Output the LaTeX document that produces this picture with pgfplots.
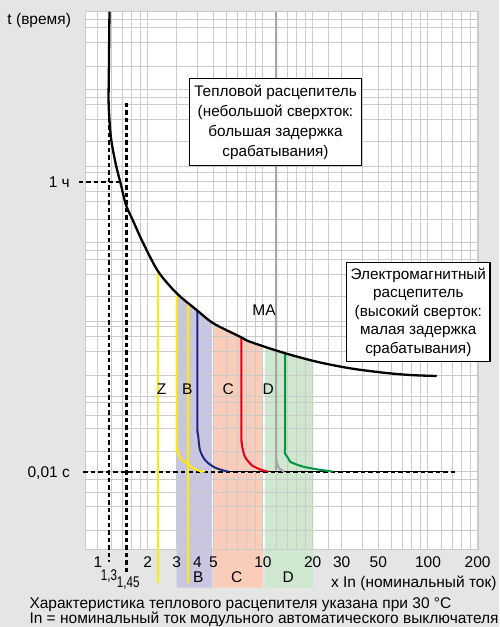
\documentclass[border=0pt]{standalone}
\usepackage{fontspec}
\setmainfont{Liberation Sans}
\usepackage{graphicx}
\usepackage{pgfplots}
\pgfplotsset{compat=1.18}
\definecolor{bggrey}{RGB}{228,230,229}
\definecolor{gridc}{RGB}{203,203,203}
\definecolor{bandB}{RGB}{200,198,225}
\definecolor{bandC}{RGB}{249,205,186}
\definecolor{bandD}{RGB}{207,230,207}
\definecolor{cyel}{RGB}{255,237,0}
\definecolor{cnavy}{RGB}{30,40,130}
\definecolor{cred}{RGB}{226,0,26}
\definecolor{cgreen}{RGB}{0,150,64}
\definecolor{cgrey}{RGB}{166,166,166}
\newcommand\fs{\fontsize{15.5}{18}\selectfont}
\begin{document}
\begin{tikzpicture}
\fill[bggrey] (0,0) rectangle (499pt,627pt);
% layer 1: white plot area and bands
\begin{axis}[at={(86pt,77pt)}, anchor=south west, scale only axis,
  width=392pt, height=538.3pt,
  xmode=log, xmin=0.846, xmax=201, ymin=-3.5, ymax=6.812,
  clip=false, axis line style={draw=none}, axis background/.style={fill=white},
  xtick=\empty, ytick=\empty]
\addplot[fill=bandB, draw=none] coordinates {(3.0,-4.222) (3.0,1.418) (3.963,1.098) (4.92,0.851) (4.92,-4.222)};
\addplot[fill=bandC, draw=none] coordinates {(4.98,-4.222) (4.98,0.846) (7.255,0.586) (8.34,0.490) (10.0,0.408) (10.0,-4.222)};
\addplot[fill=bandD, draw=none] coordinates {(10.25,-4.222) (10.25,0.397) (13.27,0.280) (20.2,0.124) (20.2,-4.222)};
\end{axis}
% layer 2: grid and curves
\begin{axis}[at={(86pt,77pt)}, anchor=south west, scale only axis,
  width=392pt, height=538.3pt,
  xmode=log, xmin=0.846, xmax=201, ymin=-3.5, ymax=6.812,
  clip=false,
  axis line style={gridc, line width=1pt},
  tick style={draw=none},
  grid=both,
  major grid style={gridc, line width=1pt},
  minor grid style={gridc, line width=1pt},
  xtick={1,2,3,4,5,10,20,30,50,100,200},
  xticklabels={1,2,3,4,5,10,20,30,50,100,200},
  minor xtick={1.2,1.4,1.6,1.8,6,7,8,9,12,14,16,18,25,40,60,70,80,90,120,140,160,180},
  ytick={-2,3.556},
  yticklabels={{0,01 с},{1 ч}},
  minor ytick={-3.117,-2.670,-2.408,-2.159,-1.617,-1.163,-0.914,-0.684,-0.563,-0.148,0.299,0.586,0.778,0.874,1.352,1.768,2.056,2.234,2.381,2.822,3.172,3.364,3.722,3.843,4.322,4.738,5.025,5.159,5.312,5.759,6.213,6.5,6.653},
  tick label style={font=\fs},
  xticklabel style={anchor=base, inner sep=0pt, yshift=-17.5pt},
  yticklabel style={anchor=base east, inner sep=0pt, xshift=-16pt, yshift=-5.5pt},
]
% guide dashed lines
\addplot[black, line width=2.2pt, dash pattern=on 4.5pt off 3pt] coordinates {(1.161,5.063) (1.161,-3.724)};
\addplot[black, line width=2.2pt, dash pattern=on 4.5pt off 3pt] coordinates {(1.49,5.063) (1.49,-3.916)};
\addplot[black, line width=2.2pt, dash pattern=on 4.5pt off 3pt] coordinates {(0.767,3.556) (1.359,3.556)};
\addplot[black, line width=2.2pt, dash pattern=on 4.5pt off 3pt] coordinates {(0.815,-2) (152,-2)};
\addplot[black, line width=1.6pt] coordinates {(6.164,-2) (130.3,-2)};
% MA
\addplot[cgrey, line width=2pt, smooth] coordinates {(12,6.812) (12,-1.4) (12,-1.648) (12.11,-1.814) (12.5,-1.929) (13.41,-2)};
% Z and B
\addplot[cyel, line width=2pt] coordinates {(2.321,1.831) (2.321,-4.138)};
\addplot[cyel, line width=2pt] coordinates {(3.526,1.232) (3.526,-4.138)};
\addplot[cyel, line width=2pt, smooth] coordinates {(3.0,1.418) (3.0,-1.4) (3.0,-1.521) (3.067,-1.648) (3.185,-1.757) (3.449,-1.839) (3.963,-1.967) (4.452,-2)};
% navy
\addplot[cnavy, line width=2pt, smooth] coordinates {(4.0,1.086) (4.0,-1.1) (4.0,-1.201) (4.054,-1.330) (4.15,-1.584) (4.452,-1.776) (5.0,-1.904) (5.619,-1.967) (6.164,-2)};
% red
\addplot[cred, line width=2pt, smooth] coordinates {(7.408,0.572) (7.408,-1.3) (7.408,-1.393) (7.49,-1.521) (7.78,-1.713) (8.54,-1.872) (9.59,-1.954) (10.77,-2)};
% green
\addplot[cgreen, line width=2pt, smooth] coordinates {(13.6,0.27) (13.6,-1.5) (13.6,-1.648) (14.23,-1.743) (14.58,-1.808) (16.0,-1.862) (17.55,-1.904) (21.16,-1.954) (26.67,-2)};
% thermal curve
\addplot[black, line width=2.3pt, smooth] coordinates {(1.174,6.812) (1.164,5.663) (1.161,5.025) (1.199,4.393) (1.285,3.876) (1.379,3.492) (1.478,3.109) (1.623,2.822) (1.882,2.375) (2.321,1.831) (3.0,1.418) (3.963,1.098) (5.0,0.843) (7.255,0.586) (8.34,0.490) (13.27,0.280) (21.15,0.107) (33.65,-0.019) (53.6,-0.103) (77.8,-0.148) (113,-0.167)};
\end{axis}
% text
\node[anchor=base west, inner sep=0, font=\fs] at (7.3pt,602.5pt) {t (время)};
\node[anchor=base, inner sep=0, font=\fs] at (109pt,46.5pt) {\scalebox{0.75}[1]{1,3}};
\node[anchor=base, inner sep=0, font=\fs] at (128.3pt,39.8pt) {\scalebox{0.75}[1]{1,45}};
\node[anchor=base, inner sep=0, font=\fs] at (198.3pt,44.8pt) {B};
\node[anchor=base, inner sep=0, font=\fs] at (236.7pt,44.8pt) {C};
\node[anchor=base, inner sep=0, font=\fs] at (288.3pt,44.8pt) {D};
\node[anchor=base, inner sep=0, font=\fs] at (161.7pt,232.2pt) {Z};
\node[anchor=base, inner sep=0, font=\fs] at (187.3pt,232.2pt) {B};
\node[anchor=base, inner sep=0, font=\fs] at (228.3pt,232.2pt) {C};
\node[anchor=base, inner sep=0, font=\fs] at (268.3pt,232.2pt) {D};
\node[anchor=base, inner sep=0, font=\fs] at (264pt,311.5pt) {MA};
\node[anchor=base east, inner sep=0, font=\fs] at (496.7pt,39.8pt) {x In (номинальный ток)};
\node[anchor=base west, inner sep=0, font=\fs] at (29.3pt,19pt) {Характеристика теплового расцепителя указана при 30 °C};
\node[anchor=base west, inner sep=0, font=\fs] at (29.3pt,3.4pt) {In = номинальный ток модульного автоматического выключателя};
\node[draw=black, fill=white, line width=1.2pt, inner sep=0, minimum width=172.4pt, minimum height=87pt, align=center, font=\fontsize{15.3}{20}\selectfont] at (275.5pt,504.8pt) {Тепловой расцепитель\\(небольшой сверхток:\\большая задержка\\срабатывания)};
\node[draw=black, fill=white, line width=1.2pt, inner sep=0, minimum width=143.3pt, minimum height=99pt, align=center, font=\fontsize{15.3}{18.5}\selectfont] at (418.3pt,314.8pt) {Электромагнитный\\расцепитель\\(высокий сверток:\\малая задержка\\срабатывания)};
\pgfresetboundingbox
\useasboundingbox (0,0) rectangle (499pt,627pt);
\end{tikzpicture}
\end{document}
